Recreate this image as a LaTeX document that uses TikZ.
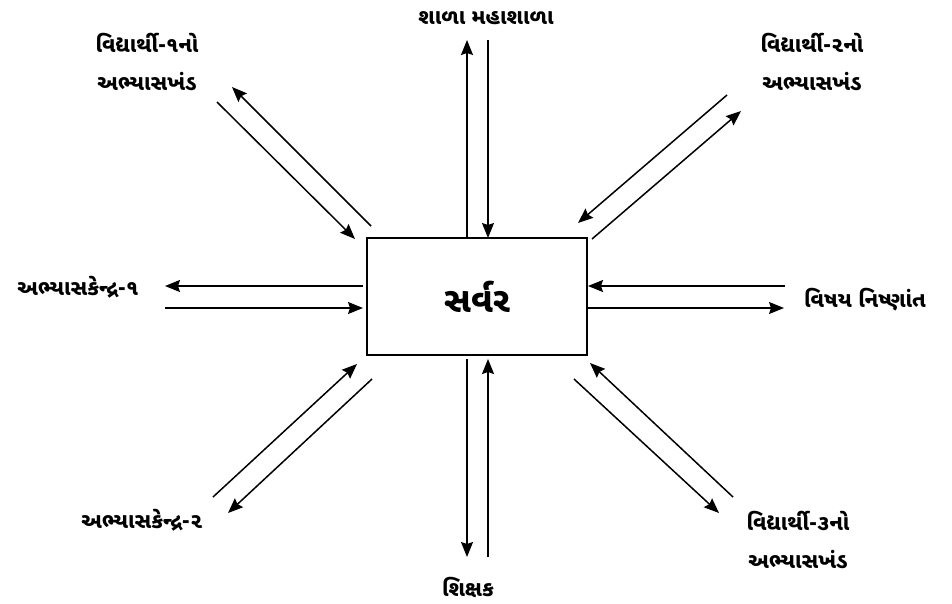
\documentclass[tikz,border=0pt]{standalone}
\usepackage{fontspec}
\newfontfamily\guj[Script=Gujarati]{Noto Sans Gujarati UI}
\usetikzlibrary{arrows.meta}
\tikzset{
  lbl/.style={font=\guj\bfseries\fontsize{21.5}{38}\selectfont, align=center, inner sep=0pt},
  conn/.style={line width=1.5pt, -{Stealth[length=15pt,width=12pt,inset=2pt]}},
  server/.style={draw, line width=1.6pt, minimum width=220pt, minimum height=117pt, inner sep=0pt,
    font=\guj\bfseries\fontsize{35}{40}\selectfont}
}
\begin{document}
\begin{tikzpicture}[x=1pt,y=-1pt]
\useasboundingbox (0,0) rectangle (952,603);
\node[server] (srv) at (477,296.5) {સર્વર};
% labels
\node[lbl] (top) at (486,18) {શાળા મહાશાળા};
\node[lbl] (bot) at (468,587) {શિક્ષક};
\node[lbl] (lft) at (78,287) {અભ્યાસકેન્દ્ર-૧};
\node[lbl] (rgt) at (865,300) {વિષય નિષ્ણાંત};
\node[lbl] (tl) at (147,62) {વિદ્યાર્થી-૧નો\\અભ્યાસખંડ};
\node[lbl] (tr) at (812,62) {વિદ્યાર્થી-૨નો\\અભ્યાસખંડ};
\node[lbl] (bl) at (142,520) {અભ્યાસકેન્દ્ર-૨};
\node[lbl] (br) at (798,540) {વિદ્યાર્થી-૩નો\\અભ્યાસખંડ};
% coordinates
\coordinate (t1a) at (467,238); \coordinate (t1b) at (467,40);
\coordinate (t2a) at (488,40);  \coordinate (t2b) at (488,238);
\coordinate (b1a) at (467,359); \coordinate (b1b) at (467,557);
\coordinate (b2a) at (488,557); \coordinate (b2b) at (488,359);
\coordinate (l1a) at (363,286); \coordinate (l1b) at (165,286);
\coordinate (l2a) at (165,308); \coordinate (l2b) at (363,308);
\coordinate (r1a) at (785,286); \coordinate (r1b) at (588,286);
\coordinate (r2a) at (588,308); \coordinate (r2b) at (784,308);
\coordinate (tla1) at (217,102); \coordinate (tla2) at (355,239);
\coordinate (tlb1) at (371,226); \coordinate (tlb2) at (232,87);
\coordinate (tra1) at (727,95);  \coordinate (tra2) at (578,223);
\coordinate (trb1) at (592,239); \coordinate (trb2) at (741,111);
\coordinate (bla1) at (213,497); \coordinate (bla2) at (357,364);
\coordinate (blb1) at (372,379); \coordinate (blb2) at (228,513);
\coordinate (bra1) at (733,497); \coordinate (bra2) at (590,363);
\coordinate (brb1) at (574,379); \coordinate (brb2) at (719,513);
% connectors
\draw[conn] (t1a) -- (t1b); \draw[conn] (t2a) -- (t2b);
\draw[conn] (b1a) -- (b1b); \draw[conn] (b2a) -- (b2b);
\draw[conn] (l1a) -- (l1b); \draw[conn] (l2a) -- (l2b);
\draw[conn] (r1a) -- (r1b); \draw[conn] (r2a) -- (r2b);
\draw[conn] (tla1) -- (tla2); \draw[conn] (tlb1) -- (tlb2);
\draw[conn] (tra1) -- (tra2); \draw[conn] (trb1) -- (trb2);
\draw[conn] (bla1) -- (bla2); \draw[conn] (blb1) -- (blb2);
\draw[conn] (bra1) -- (bra2); \draw[conn] (brb1) -- (brb2);
\end{tikzpicture}
\end{document}
